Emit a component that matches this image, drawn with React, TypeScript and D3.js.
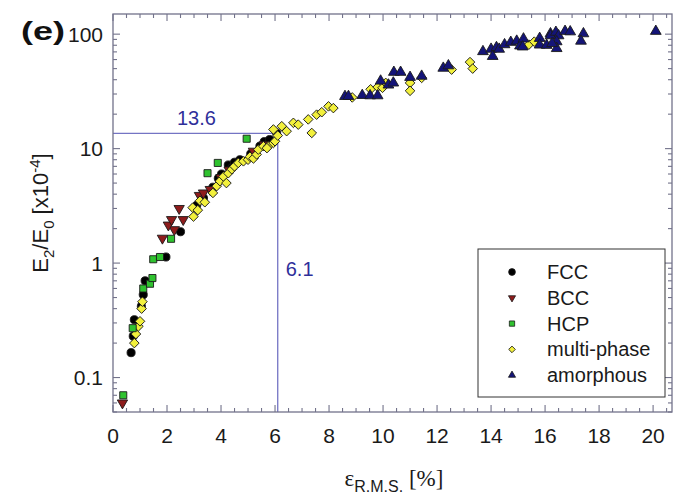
import React, { useEffect, useRef } from 'react';
import * as d3 from 'd3';

// data: [strain %, E2/E0 x1e-4]
const fcc: [number, number][] = [
  [0.67, 0.165], [0.75, 0.23], [0.79, 0.32], [1.05, 0.42], [1.12, 0.53], [1.19, 0.7],
  [1.96, 1.13], [2.5, 1.88], [3.1, 3.2], [3.35, 3.7], [3.7, 4.6], [3.9, 5.5],
  [4.02, 6.0], [4.27, 7.2], [4.4, 6.8], [4.5, 7.6], [4.7, 8.0], [5.1, 9.0],
  [5.44, 10.5], [5.6, 11.5], [5.8, 12.0], [6.06, 13.7]
];
const bcc: [number, number][] = [
  [0.35, 0.06], [1.83, 1.65], [2.27, 1.96], [2.05, 2.15], [2.17, 2.4], [2.6, 2.4],
  [2.45, 3.0], [3.2, 3.9], [3.35, 4.1], [3.6, 4.4], [4.0, 5.6], [4.3, 6.5],
  [5.2, 9.5], [5.6, 10.8]
];
const hcp: [number, number][] = [
  [0.38, 0.07], [0.73, 0.27], [1.12, 0.6], [1.37, 0.66], [1.46, 0.74], [1.49, 1.08],
  [1.74, 1.13], [2.15, 1.63], [3.5, 6.1], [3.88, 7.5], [4.95, 12.2]
];
const multiPhase: [number, number][] = [
  [0.79, 0.2], [0.85, 0.24], [0.94, 0.28], [1.0, 0.31], [1.06, 0.4], [1.09, 0.46],
  [2.98, 2.55], [2.95, 3.05], [3.14, 2.9], [3.22, 3.5], [3.4, 3.4], [3.7, 4.1],
  [3.84, 4.7], [3.96, 5.2], [4.09, 5.7], [4.2, 5.0], [4.27, 6.1], [4.4, 6.6],
  [4.5, 7.0], [4.64, 7.5], [4.83, 7.75], [5.0, 8.0], [5.07, 8.5], [5.2, 8.2],
  [5.32, 8.9], [5.38, 9.8], [5.57, 10.5], [5.75, 10.5], [5.7, 10.1], [5.94, 11.2],
  [6.0, 11.6], [5.94, 14.7], [6.25, 15.7], [6.1, 13.0], [6.43, 14.2], [6.68, 16.8],
  [6.86, 16.2], [7.23, 18], [7.36, 13.7], [7.54, 19.8], [7.73, 20.8], [7.98, 23.4],
  [8.16, 22.6], [8.86, 28], [9.54, 33], [9.8, 34.5], [9.98, 34], [10.1, 37.5],
  [11.0, 37.5], [11.0, 32], [11.43, 41.5], [12.54, 49], [13.22, 57], [13.32, 50],
  [15.4, 81], [15.6, 86]
];
const amorphous: [number, number][] = [
  [8.59, 28.6], [8.72, 28.6], [9.23, 29.2], [9.52, 29], [9.8, 29], [9.91, 39],
  [10.2, 36], [10.38, 37.5], [10.4, 46.5], [10.65, 46.5], [11.0, 42], [11.43, 43],
  [12.23, 50.5], [12.42, 53], [13.7, 70.5], [14.0, 74], [14.06, 64], [14.2, 76.5],
  [14.3, 74], [14.5, 81], [14.73, 85], [14.95, 87], [15.07, 79], [15.2, 91],
  [15.17, 77.5], [15.8, 92], [15.8, 80.5], [16.06, 80], [16.2, 101], [16.2, 97],
  [16.4, 104], [16.5, 97], [16.43, 86], [16.43, 75], [16.26, 83], [16.74, 106],
  [16.93, 105], [17.42, 101], [17.33, 87], [20.1, 106]
];

const seriesNames = ['FCC', 'BCC', 'HCP', 'multi-phase', 'amorphous'];
const xTickLabels = [0, 2, 4, 6, 8, 10, 12, 14, 16, 18, 20];
const yTickLabels = [0.1, 1, 10, 100];
const refX = 6.1;
const refY = 13.6;

export default function App() {
  const ref = useRef<SVGSVGElement>(null);

  useEffect(() => {
    const svg = d3.select(ref.current);
    svg.selectAll('*').remove();

    const left = 113, right = 672, top = 14, bottom = 412;
    const x = d3.scaleLinear().domain([0, 20.7]).range([left, right]);
    const y = d3.scaleLog().domain([0.05, 150]).range([bottom, top]);
    const axisColor = '#72728a';
    const font = 'Liberation Sans, Arial, sans-serif';

    // reference lines
    svg.append('line')
      .attr('x1', left).attr('x2', x(refX))
      .attr('y1', y(refY)).attr('y2', y(refY))
      .attr('stroke', '#7474c4').attr('stroke-width', 1.3);
    svg.append('line')
      .attr('x1', x(refX)).attr('x2', x(refX))
      .attr('y1', y(refY)).attr('y2', bottom)
      .attr('stroke', '#7474c4').attr('stroke-width', 1.3);
    svg.append('text')
      .attr('x', (left + x(refX)) / 2 + 1).attr('y', y(refY) - 8)
      .attr('text-anchor', 'middle')
      .style('font-family', font).style('font-size', '20px').attr('fill', '#2f2f9a')
      .text(String(refY));
    svg.append('text')
      .attr('x', x(refX) + 8).attr('y', y(1) + 13)
      .style('font-family', font).style('font-size', '20px').attr('fill', '#2f2f9a')
      .text(String(refX));

    // ticks
    const g = svg.append('g').attr('stroke', axisColor).attr('stroke-width', 1.1);
    const xMinor = d3.range(0, 20.7, 0.5);
    xMinor.forEach((v) => {
      const major = Math.abs(v % 2) < 1e-6;
      const len = major ? 7 : 4;
      g.append('line').attr('x1', x(v)).attr('x2', x(v)).attr('y1', bottom).attr('y2', bottom - len);
      g.append('line').attr('x1', x(v)).attr('x2', x(v)).attr('y1', top).attr('y2', top + len);
    });
    const yTicks: { v: number; major: boolean }[] = [];
    [0.01, 0.1, 1, 10, 100].forEach((dec) => {
      for (let k = 1; k <= 9; k++) {
        const v = dec * k;
        if (v >= 0.05 && v <= 150) yTicks.push({ v, major: k === 1 });
      }
    });
    yTicks.forEach(({ v, major }) => {
      const len = major ? 7 : 4;
      g.append('line').attr('x1', left).attr('x2', left + len).attr('y1', y(v)).attr('y2', y(v));
      g.append('line').attr('x1', right).attr('x2', right - len).attr('y1', y(v)).attr('y2', y(v));
    });

    // tick labels
    svg.selectAll('text.xt').data(xTickLabels).enter().append('text')
      .attr('x', (d) => x(d)).attr('y', bottom + 31)
      .attr('text-anchor', 'middle')
      .style('font-family', font).style('font-size', '21px').attr('fill', '#1a1a1a')
      .text((d) => String(d));
    svg.selectAll('text.yt').data(yTickLabels).enter().append('text')
      .attr('x', left - 10).attr('y', (d) => y(d) + 7.5)
      .attr('text-anchor', 'end')
      .style('font-family', font).style('font-size', '21px').attr('fill', '#1a1a1a')
      .text((d) => String(d));

    // points
    const circle = d3.symbol().type(d3.symbolCircle).size(52)();
    const triDown = d3.symbol().type(d3.symbolTriangle).size(46)();
    const triUp = d3.symbol().type(d3.symbolTriangle).size(50)();
    const square = d3.symbol().type(d3.symbolSquare).size(50)();
    const diamond = d3.symbol().type(d3.symbolSquare).size(46)();

    const styles = [
      { data: fcc, path: circle, fill: '#000000', rot: 0 },
      { data: bcc, path: triDown, fill: '#8e1c1c', rot: 180 },
      { data: multiPhase, path: diamond, fill: '#f2f03c', rot: 45 },
      { data: hcp, path: square, fill: '#2fc22f', rot: 0 },
      { data: amorphous, path: triUp, fill: '#141478', rot: 0 }
    ];
    styles.forEach((s) => {
      svg.append('g').selectAll('path').data(s.data).enter().append('path')
        .attr('d', s.path)
        .attr('transform', (d) => `translate(${x(d[0])},${y(d[1])}) rotate(${s.rot})`)
        .attr('fill', s.fill)
        .attr('stroke', '#1b1b1b').attr('stroke-width', 0.9);
    });

    // frame
    svg.append('rect')
      .attr('x', left).attr('y', top).attr('width', right - left).attr('height', bottom - top)
      .attr('fill', 'none').attr('stroke', axisColor).attr('stroke-width', 1.3);

    // legend
    const lx = 478, ly = 249;
    svg.append('rect')
      .attr('x', lx).attr('y', ly).attr('width', 187).attr('height', 148)
      .attr('fill', 'white').attr('stroke', '#333').attr('stroke-width', 1);
    const legendStyles = [
      { name: seriesNames[0], path: d3.symbol().type(d3.symbolCircle).size(36)(), fill: '#000000', rot: 0 },
      { name: seriesNames[1], path: d3.symbol().type(d3.symbolTriangle).size(22)(), fill: '#8e1c1c', rot: 180 },
      { name: seriesNames[2], path: d3.symbol().type(d3.symbolSquare).size(28)(), fill: '#2fc22f', rot: 0 },
      { name: seriesNames[3], path: d3.symbol().type(d3.symbolSquare).size(22)(), fill: '#f2f03c', rot: 45 },
      { name: seriesNames[4], path: d3.symbol().type(d3.symbolTriangle).size(22)(), fill: '#141478', rot: 0 }
    ];
    legendStyles.forEach((s, i) => {
      const cy = ly + 23 + i * 25.8;
      svg.append('path')
        .attr('d', s.path)
        .attr('transform', `translate(${lx + 34},${cy}) rotate(${s.rot})`)
        .attr('fill', s.fill).attr('stroke', '#1b1b1b').attr('stroke-width', 0.8);
      svg.append('text')
        .attr('x', lx + 69).attr('y', cy + 7)
        .style('font-family', font).style('font-size', '20px').attr('fill', '#1a1a1a')
        .text(s.name);
    });

    // panel tag
    svg.append('text')
      .attr('x', 21).attr('y', 40)
      .attr('textLength', 44).attr('lengthAdjust', 'spacingAndGlyphs')
      .style('font-family', font).style('font-size', '26px').style('font-weight', 'bold')
      .attr('fill', '#111')
      .text('(e)');

    // y title
    const yt = svg.append('text')
      .attr('transform', `translate(48,${(top + bottom) / 2}) rotate(-90)`)
      .attr('text-anchor', 'middle')
      .style('font-family', font).style('font-size', '22px').attr('fill', '#1a1a1a');
    yt.append('tspan').text('E');
    yt.append('tspan').attr('dy', 6).style('font-size', '15px').text('2');
    yt.append('tspan').attr('dy', -6).text('/E');
    yt.append('tspan').attr('dy', 6).style('font-size', '15px').text('0');
    yt.append('tspan').attr('dy', -6).text(' [x10');
    yt.append('tspan').attr('dy', -8).style('font-size', '15px').text('-4');
    yt.append('tspan').attr('dy', 8).text(']');

    // x title
    const xt = svg.append('text')
      .attr('x', 394).attr('y', 486)
      .attr('text-anchor', 'middle')
      .style('font-family', 'Liberation Serif, Times New Roman, serif').style('font-size', '23px')
      .attr('fill', '#1a1a1a');
    xt.append('tspan').text('ε');
    xt.append('tspan').attr('dy', 6).style('font-family', font).style('font-size', '16px').text('R.M.S.');
    xt.append('tspan').attr('dy', -6).text(' [%]');
  }, []);

  return (
    <svg ref={ref} width={681} height={496}
      style={{ position: 'absolute', left: 0, top: 0, background: 'white' }} />
  );
}
